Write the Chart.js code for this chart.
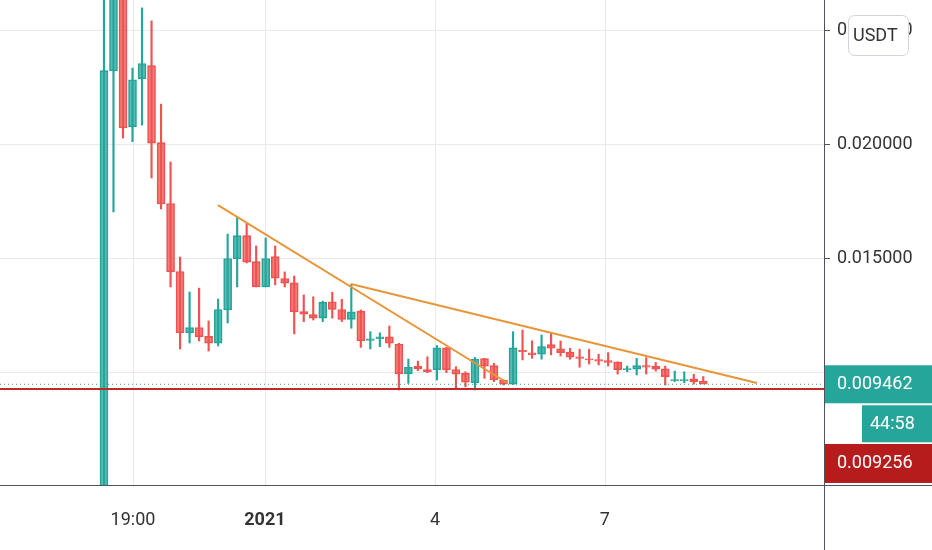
<!DOCTYPE html>
<html><head><meta charset="utf-8">
<script src="https://cdn.jsdelivr.net/npm/chart.js@4.4.0/dist/chart.umd.min.js"></script>
<style>html,body{margin:0;padding:0;background:#fff}#w{width:932px;height:550px}</style>
</head><body><div id="w"><canvas id="c"></canvas></div>
<script>
const opens  = [0.0045,0.0232,0.028,0.02075,0.02285,0.02342,0.02004,0.01737,0.01439,0.01171,0.01193,0.01154,0.01127,0.01272,0.01496,0.01596,0.01482,0.01373,0.01504,0.01408,0.01389,0.01263,0.0125,0.01236,0.01306,0.01272,0.01231,0.01265,0.01138,0.01146,0.01152,0.01121,0.00992,0.01023,0.01009,0.01009,0.01104,0.01009,0.00992,0.00953,0.01057,0.01026,0.00962,0.00947,0.01093,0.01082,0.01078,0.01118,0.011,0.01085,0.01065,0.01056,0.01053,0.01048,0.01042,0.0101,0.01012,0.01026,0.01023,0.01012,0.00962,0.00962,0.00968,0.00958];
const closes = [0.0232,0.027,0.0207,0.0228,0.02351,0.02004,0.01737,0.01439,0.01171,0.01193,0.01154,0.01127,0.01272,0.01496,0.01596,0.01482,0.01373,0.01496,0.01412,0.0139,0.01264,0.01254,0.01236,0.01304,0.01275,0.01231,0.01262,0.01136,0.01143,0.01152,0.01126,0.00992,0.01019,0.01013,0.01001,0.01104,0.01009,0.0099,0.00955,0.01055,0.01026,0.00965,0.00947,0.01104,0.01089,0.01075,0.01109,0.01104,0.01085,0.01065,0.0106,0.01053,0.01048,0.01042,0.0101,0.01013,0.01026,0.01021,0.01012,0.0098,0.00965,0.00965,0.00958,0.009462];
const highs  = [0.03,0.03,0.03,0.02333,0.02597,0.0254,0.02175,0.01921,0.01504,0.01351,0.01368,0.01224,0.0132,0.01605,0.0168,0.01654,0.01553,0.01588,0.01553,0.01439,0.01421,0.01338,0.0133,0.01311,0.0135,0.01319,0.01385,0.01272,0.01177,0.01172,0.01202,0.01126,0.01057,0.01048,0.01067,0.01116,0.01108,0.01023,0.01001,0.01064,0.0106,0.01038,0.00966,0.01177,0.01184,0.01137,0.01162,0.0117,0.01136,0.01104,0.011,0.011,0.01078,0.01085,0.01045,0.01026,0.0106,0.01063,0.01042,0.01026,0.01004,0.01001,0.0099,0.0098];
const lows   = [0.004,0.01702,0.02026,0.0201,0.02083,0.01851,0.01715,0.01373,0.01101,0.01127,0.01136,0.01092,0.01114,0.01215,0.01373,0.01478,0.01373,0.01373,0.01382,0.01373,0.01167,0.01221,0.01228,0.01221,0.01236,0.01221,0.01192,0.01108,0.01101,0.01111,0.01108,0.00921,0.0095,0.01006,0.00997,0.00965,0.00997,0.00924,0.00935,0.00921,0.00972,0.00958,0.00943,0.00945,0.01053,0.0106,0.01056,0.01075,0.0107,0.01056,0.01021,0.01035,0.01031,0.01026,0.00991,0.01001,0.00987,0.00991,0.01004,0.00943,0.00958,0.00953,0.00947,0.00958];
const xTickPos = [3.05,16.92,34.8,52.66];
const xTickLabels = ['19:00','2021','4','7'];
const yTicks = [0.010,0.015,0.020,0.025];
const yTickLabels = ['','0.015000','0.020000','0.025000'];
const trendA = [[11.98,0.01732],[42.42,0.009518]];
const trendB = [[25.967,0.01386],[68.64,0.009518]];
const lastPrice = 0.009462, redLevel = 0.009256, countdown = '44:58';

const UP='#26a69a', DN='#ef5350';
const idx = opens.map((_,i)=>i);
const isUp = idx.map(i=>closes[i]>=opens[i]);
const bodies = idx.map(i=>({x:i,y:[Math.min(opens[i],closes[i]),Math.max(opens[i],closes[i])+0.00002]}));
const wicks = idx.map(i=>({x:i,y:[lows[i],highs[i]]}));
const FONT='Roboto';
const FS='18px ';

const overlay={id:'ov',
beforeDatasetsDraw(ch){
  const c=ch.ctx,x=ch.scales.x,y=ch.scales.y,a=ch.chartArea;
  c.save();c.strokeStyle='#e6e9ee';c.lineWidth=1;
  xTickPos.forEach(v=>{const p=Math.round(x.getPixelForValue(v))+0.5;c.beginPath();c.moveTo(p,a.top);c.lineTo(p,a.bottom);c.stroke();});
  yTicks.forEach(v=>{const p=Math.round(y.getPixelForValue(v))+0.5;c.beginPath();c.moveTo(a.left,p);c.lineTo(a.right,p);c.stroke();});
  c.restore();
},
afterDatasetsDraw(ch){
  const c=ch.ctx,y=ch.scales.y,a=ch.chartArea;
  c.save();
  let py=y.getPixelForValue(lastPrice);
  c.strokeStyle=UP;c.lineWidth=1;c.setLineDash([1,3]);
  c.beginPath();c.moveTo(a.left,py);c.lineTo(a.right,py);c.stroke();c.setLineDash([]);
  let ry=y.getPixelForValue(redLevel);
  c.strokeStyle='#c62828';c.lineWidth=2;
  c.beginPath();c.moveTo(a.left,ry);c.lineTo(a.right,ry);c.stroke();
  c.restore();
},afterDraw(ch){
  const c=ch.ctx,x=ch.scales.x,y=ch.scales.y,a=ch.chartArea;
  c.save();
  c.strokeStyle='#50535e';c.lineWidth=1;
  c.beginPath();c.moveTo(a.right+0.5,0);c.lineTo(a.right+0.5,550);c.stroke();
  c.beginPath();c.moveTo(0,a.bottom+0.5);c.lineTo(932,a.bottom+0.5);c.stroke();
  c.textBaseline='middle';
  c.font=FS+FONT;c.fillStyle='#333';
  yTicks.forEach((v,i)=>{if(!yTickLabels[i])return;const p=y.getPixelForValue(v);
    c.beginPath();c.moveTo(a.right,p+0.5);c.lineTo(a.right+6,p+0.5);c.stroke();
    c.fillText(yTickLabels[i],837,p);});
  c.textAlign='center';
  xTickPos.forEach((v,i)=>{c.font=(i===1?'bold ':'')+FS+FONT;c.fillText(xTickLabels[i],x.getPixelForValue(v),520);});
  c.textAlign='left';c.font=FS+FONT;
  let py=y.getPixelForValue(lastPrice);
  c.fillStyle=UP;c.fillRect(a.right+1,py-19,932-a.right,38);
  c.fillStyle='#fff';c.fillText(lastPrice.toFixed(6),837,py);
  c.fillStyle=UP;c.fillRect(862,py+21,70,37);
  c.fillStyle='#fff';c.fillText(countdown,870,py+40);
  let ry=y.getPixelForValue(redLevel);
  c.fillStyle='#b71c1c';c.fillRect(a.right+1,ry+55,932-a.right,39);
  c.fillStyle='#fff';c.fillText(redLevel.toFixed(6),837,ry+75);
  c.fillStyle='#fff';c.strokeStyle='#d0d3da';c.lineWidth=1;
  c.beginPath();c.roundRect(848.5,15.5,60,40,6);c.fill();c.stroke();
  c.fillStyle='#333';c.fillText('USDT',853,36);
  c.restore();
}};

const line=(pts)=>({type:'line',data:pts.map(p=>({x:p[0],y:p[1]})),borderColor:'#e8963a',borderWidth:2,pointRadius:0,fill:false});

new Chart(document.getElementById('c'),{
  type:'bar',
  data:{datasets:[
    {data:wicks,backgroundColor:idx.map(i=>isUp[i]?UP:DN),barThickness:1.5,grouped:false,order:3},
    {data:bodies,backgroundColor:idx.map(i=>isUp[i]?'rgba(38,166,154,0.75)':'rgba(239,83,80,0.75)'),borderColor:idx.map(i=>isUp[i]?UP:DN),borderWidth:1,borderSkipped:false,barThickness:8,grouped:false,order:2},
    line(trendA),line(trendB)
  ]},
  options:{
    responsive:true,maintainAspectRatio:false,animation:false,
    layout:{padding:{left:0,top:0,right:108,bottom:65}},
    plugins:{legend:{display:false},tooltip:{enabled:false}},
    scales:{
      x:{type:'linear',min:-10.93,max:75.69,offset:false,display:false},
      y:{min:0.005044,max:0.026316,display:false}
    }
  },
  plugins:[overlay]
});
</script></body></html>
